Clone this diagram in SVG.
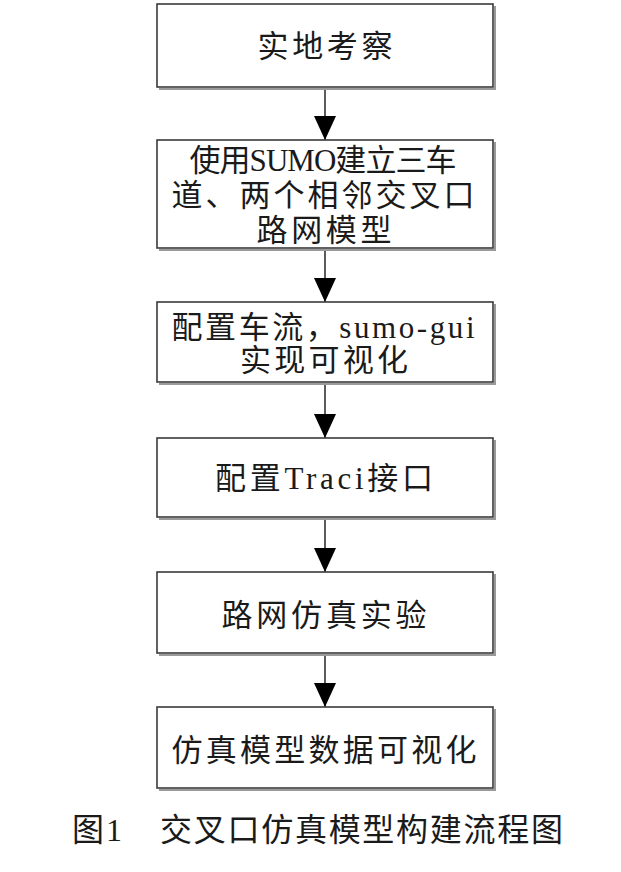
<svg xmlns="http://www.w3.org/2000/svg" width="621" height="872" viewBox="0 0 621 872">
<defs>
<style>
.box{fill:#fff;stroke:#3a3a3a;stroke-width:1.6}
.sh{fill:none;stroke:#9a9a9a;stroke-width:2}
.t{font-family:"Liberation Serif","Noto Sans CJK SC",serif;font-size:31px;fill:#1a1a1a;text-anchor:middle;dominant-baseline:central}
.cap{font-family:"Liberation Serif","Noto Sans CJK SC",serif;font-size:32px;fill:#1a1a1a;dominant-baseline:central}
.c{stroke:#333;stroke-width:1.6;fill:none}
</style>
<marker id="ah" markerUnits="userSpaceOnUse" markerWidth="26" markerHeight="22" refX="24" refY="11" orient="auto">
<path d="M0,0 L24,11 L0,22 Z" fill="#000"/>
</marker>
</defs>
<rect width="621" height="872" fill="#fff"/>
<g id="connectors">
<line class="c" x1="325" y1="88" x2="325" y2="140" marker-end="url(#ah)"/>
<line class="c" x1="325" y1="249" x2="325" y2="302" marker-end="url(#ah)"/>
<line class="c" x1="325" y1="383" x2="325" y2="438" marker-end="url(#ah)"/>
<line class="c" x1="325" y1="518" x2="325" y2="572" marker-end="url(#ah)"/>
<line class="c" x1="325" y1="654" x2="325" y2="707" marker-end="url(#ah)"/>
</g>
<g id="n1">
<polyline class="sh" points="495,6 495,89 159,89"/>
<rect class="box" x="157" y="4" width="336" height="83"/>
<text class="t" x="325" y="46" textLength="135" lengthAdjust="spacing">实地考察</text>
</g>
<g id="n2">
<polyline class="sh" points="495,142 495,250 159,250"/>
<rect class="box" x="157" y="140" width="336" height="108"/>
<text class="t" x="323" y="160" textLength="267" lengthAdjust="spacing">使用SUMO建立三车</text>
<text class="t" x="323" y="195" textLength="303" lengthAdjust="spacing">道、两个相邻交叉口</text>
<text class="t" x="324" y="230" textLength="135" lengthAdjust="spacing">路网模型</text>
</g>
<g id="n3">
<polyline class="sh" points="495,304 495,384 159,384"/>
<rect class="box" x="157" y="302" width="336" height="80"/>
<text class="t" x="323" y="327" textLength="303" lengthAdjust="spacing">配置车流，sumo-gui</text>
<text class="t" x="324" y="360" textLength="168" lengthAdjust="spacing">实现可视化</text>
</g>
<g id="n4">
<polyline class="sh" points="495,440 495,519 159,519"/>
<rect class="box" x="157" y="438" width="336" height="79"/>
<text class="t" x="324" y="478" textLength="218" lengthAdjust="spacing">配置Traci接口</text>
</g>
<g id="n5">
<polyline class="sh" points="495,574 495,655 159,655"/>
<rect class="box" x="157" y="572" width="336" height="81"/>
<text class="t" x="324" y="615" textLength="205" lengthAdjust="spacing">路网仿真实验</text>
</g>
<g id="n6">
<polyline class="sh" points="495,709 495,790 159,790"/>
<rect class="box" x="157" y="707" width="336" height="81"/>
<text class="t" x="324" y="750" textLength="305" lengthAdjust="spacing">仿真模型数据可视化</text>
</g>
<g id="caption">
<text class="cap" x="72" y="830" textLength="50" lengthAdjust="spacing">图1</text>
<text class="cap" x="160" y="830" textLength="403" lengthAdjust="spacing">交叉口仿真模型构建流程图</text>
</g>
</svg>
